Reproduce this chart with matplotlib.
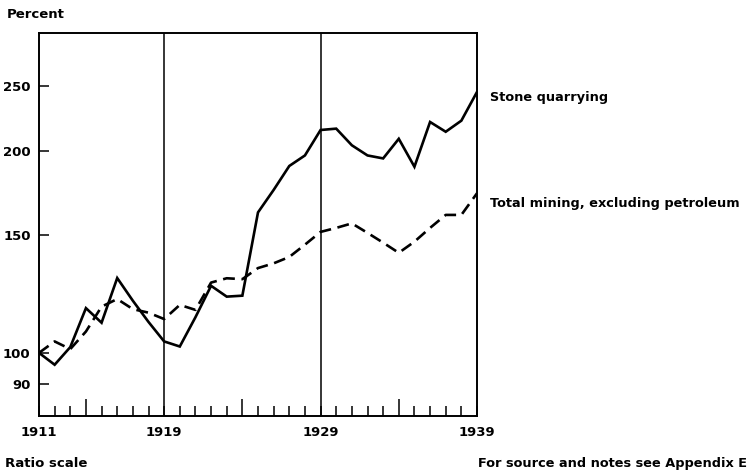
import numpy as np
import matplotlib
matplotlib.use("Agg")
import matplotlib.pyplot as plt
from matplotlib.ticker import FixedLocator, NullLocator

plt.rcParams["font.family"] = ["DejaVu Sans"]

years = list(range(1911, 1940))
stone = [100, 96, 102, 116.6, 110.9, 129.3, 119.6, 111.2, 104, 102.2,
         113, 125.9, 121.3, 121.7, 162, 175, 190, 197, 215, 216,
         204, 197, 195, 208.6, 189.5, 221, 213.7, 222, 245]
total = [100, 104, 101.3, 107.6, 117.2, 120.3, 116.2, 114.8, 112.3, 117.9,
         115.9, 127.3, 129.2, 128.8, 133.8, 136, 139, 145, 151.5, 153.6,
         156, 151, 146, 141, 146.5, 153.6, 160.6, 160.6, 173]
yticks = [90, 100, 150, 200, 250]
xlabels = [1911, 1919, 1929, 1939]
divider_years = [1919, 1929]
long_tick_years = [1914, 1924, 1934]

fig = plt.figure(figsize=(7.52, 4.73), dpi=100)
ax = fig.add_axes([39/752, 1-416/473, 438/752, 383/473])

ax.plot(years, stone, color="black", lw=1.9, solid_joinstyle="miter")
ax.plot(years, total, color="black", lw=1.9, dashes=(4.5, 2.5))

for yr in divider_years:
    ax.axvline(yr, color="black", lw=1.1)

ax.set_yscale("log")
ax.set_ylim(80.5, 300)
ax.set_xlim(1911, 1939)

ax.yaxis.set_major_locator(FixedLocator(yticks))
ax.yaxis.set_minor_locator(NullLocator())
ax.set_yticklabels([str(v) for v in yticks], fontweight="bold")
ax.tick_params(axis="y", direction="in", length=7, width=1.1, labelsize=9.5, pad=6)

short = [y for y in years if y not in long_tick_years]
ax.xaxis.set_major_locator(FixedLocator(long_tick_years))
ax.xaxis.set_minor_locator(FixedLocator(short))
ax.tick_params(axis="x", which="major", direction="in", length=12, width=1.1, labelbottom=False)
ax.tick_params(axis="x", which="minor", direction="in", length=7, width=1.1)

for yr in xlabels:
    ax.text(yr, -16/383, str(yr), transform=ax.get_xaxis_transform(),
            ha="center", va="center", fontsize=9.5, fontweight="bold")

for s in ax.spines.values():
    s.set_linewidth(1.4)

fig.text(7/752, 1-15/473, "Percent", ha="left", va="center", fontsize=9.5, fontweight="bold")
fig.text(5/752, 1-463/473, "Ratio scale", ha="left", va="center", fontsize=9.5, fontweight="bold")
fig.text(747/752, 1-463/473, "For source and notes see Appendix E", ha="right", va="center",
         fontsize=9.3, fontweight="bold")
fig.text(490/752, 1-97/473, "Stone quarrying", ha="left", va="center", fontsize=9.3, fontweight="bold")
fig.text(490/752, 1-203/473, "Total mining, excluding petroleum", ha="left", va="center",
         fontsize=9.3, fontweight="bold")

fig.savefig("out.png", dpi=100)
